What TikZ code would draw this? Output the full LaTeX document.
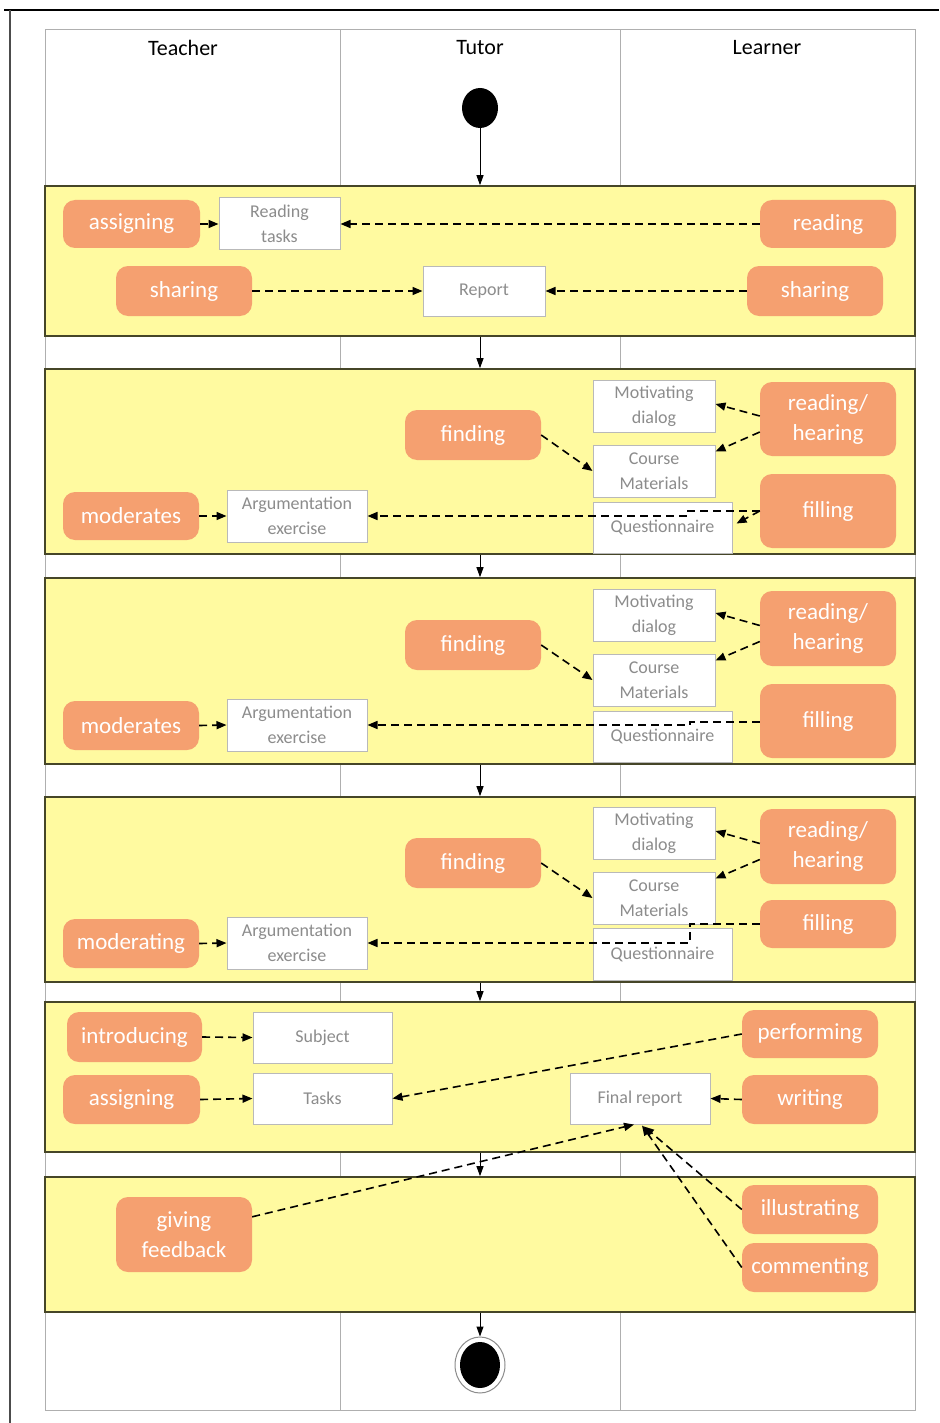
\documentclass[tikz,border=0pt]{standalone}
\usepackage{fontspec}
\setmainfont{Carlito}
\usetikzlibrary{arrows.meta,shapes.geometric}

\definecolor{actfill}{RGB}{245,160,112}
\definecolor{bandfill}{RGB}{255,250,160}
\definecolor{bandline}{RGB}{70,70,40}
\definecolor{boxline}{RGB}{185,185,185}
\definecolor{boxtext}{RGB}{140,140,140}
\definecolor{laneline}{RGB}{175,175,175}

\tikzset{
  act/.style={rounded corners=12pt, fill=actfill, draw=none, text=white, align=center,
    font=\fontsize{23}{30}\selectfont, inner sep=0pt},
  obj/.style={rectangle, fill=white, draw=boxline, line width=1pt, text=boxtext, align=center,
    font=\fontsize{18}{25}\selectfont, inner sep=0pt},
  band/.style={rectangle, fill=bandfill, draw=bandline, line width=1.6pt, inner sep=0pt},
  flow/.style={draw=black, line width=1.6pt, dash pattern=on 8pt off 5pt,
    -{Triangle[length=10pt,width=8pt]}},
  ctrl/.style={draw=black, line width=1pt, -{Triangle[length=10pt,width=7pt]}},
  lane/.style={draw=laneline, line width=1pt},
  head/.style={font=\fontsize{22}{26}\selectfont, text=black},
}

\begin{document}
\begin{tikzpicture}[x=1pt,y=-1pt]
\useasboundingbox (0,0) rectangle (939,1423);
\fill[white] (0,0) rectangle (939,1423);

% outer frame edges
\draw[black, line width=1.8pt] (4,10) -- (939,10);
\draw[black!70, line width=1.8pt] (10,10) -- (10,1423);

% swimlanes
\draw[lane] (45,30) rectangle (915,1410);
\draw[lane] (340,30) -- (340,1410);
\draw[lane] (620,30) -- (620,1410);
\node[head] (hT) at (183,48) {Teacher};
\node[head] (hU) at (480,48) {Tutor};
\node[head] (hL) at (767,48) {Learner};

% start and end
\node[ellipse, fill=black, minimum width=36pt, minimum height=40pt, inner sep=0pt] (start) at (480,108) {};
\node[ellipse, draw=black!45, line width=1pt, fill=white, minimum width=50pt, minimum height=56pt, inner sep=0pt] (endring) at (480,1365) {};
\node[ellipse, fill=black, minimum width=40pt, minimum height=46pt, inner sep=0pt] (end) at (480,1365) {};

% activity bands
\node[band, minimum width=870pt, minimum height=150pt] (b1) at (480,261) {};
\node[band, minimum width=870pt, minimum height=185pt] (b2) at (480,461.5) {};
\node[band, minimum width=870pt, minimum height=186pt] (b3) at (480,671) {};
\node[band, minimum width=870pt, minimum height=185pt] (b4) at (480,889.5) {};
\node[band, minimum width=870pt, minimum height=150pt] (b5) at (480,1077) {};
\node[band, minimum width=870pt, minimum height=135pt] (b6) at (480,1244.5) {};

% control flow
\draw[ctrl] (start) -- (b1.north);
\draw[ctrl] (b1.south) -- (b2.north);
\draw[ctrl] (b2.south) -- (b3.north);
\draw[ctrl] (b3.south) -- (b4.north);
\draw[ctrl] (b4.south) -- (b5.north);
\draw[ctrl] (b5.south) -- (b6.north);
\draw[ctrl] (b6.south) -- (endring.north);

% band 1
\node[act, minimum width=137pt, minimum height=48pt] (as1) at (131.5,224) {assigning};
\node[obj, minimum width=121pt, minimum height=52pt] (rt) at (279.5,224) {Reading\\tasks};
\node[act, minimum width=136pt, minimum height=48pt] (rd) at (828,224) {reading};
\node[act, minimum width=136pt, minimum height=50pt] (sh1) at (184,291) {sharing};
\node[obj, minimum width=122pt, minimum height=50pt] (rep) at (484,291) {Report};
\node[act, minimum width=136pt, minimum height=50pt] (sh2) at (815,291) {sharing};
\draw[flow] (as1.east) -- (rt.west);
\draw[flow] (rd.west) -- (rt.east);
\draw[flow] (sh1.east) -- (rep.west);
\draw[flow] (sh2.west) -- (rep.east);

% band 2
\node[obj, minimum width=122pt, minimum height=52pt] (md2) at (654,406) {Motivating\\dialog};
\node[obj, minimum width=122pt, minimum height=52pt] (cm2) at (654,471) {Course\\Materials};
\node[obj, minimum width=139pt, minimum height=51pt] (q2) at (662.5,527.5) {Questionnaire};
\node[act, minimum width=136pt, minimum height=74pt] (rh2) at (828,419) {reading/\\hearing};
\node[act, minimum width=136pt, minimum height=74pt] (fi2) at (828,511) {filling};
\node[act, minimum width=136pt, minimum height=50pt] (fd2) at (473,435) {finding};
\node[act, minimum width=136pt, minimum height=48pt] (mo2) at (131,516) {moderates};
\node[obj, minimum width=140pt, minimum height=52pt] (ae2) at (297,516) {Argumentation\\exercise};
\draw[flow] ([yshift=3pt]rh2.west) -- ([yshift=2pt]md2.east);
\draw[flow] ([yshift=-13pt]rh2.west) -- ([yshift=-7pt]cm2.north east);
\draw[flow] (fd2.east) -- (cm2.west);
\draw[flow] (fi2.west) -- ++(-72,0) |- (ae2.east);
\draw[flow] (fi2.west) -- ([xshift=4pt,yshift=4pt]q2.east);
\draw[flow] (mo2.east) -- (ae2.west);

% band 3
\node[obj, minimum width=122pt, minimum height=52pt] (md3) at (654,615) {Motivating\\dialog};
\node[obj, minimum width=122pt, minimum height=52pt] (cm3) at (654,680) {Course\\Materials};
\node[obj, minimum width=139pt, minimum height=51pt] (q3) at (662.5,736.5) {Questionnaire};
\node[act, minimum width=136pt, minimum height=75pt] (rh3) at (828,628.5) {reading/\\hearing};
\node[act, minimum width=136pt, minimum height=74pt] (fi3) at (828,721) {filling};
\node[act, minimum width=136pt, minimum height=50pt] (fd3) at (473,645) {finding};
\node[act, minimum width=136pt, minimum height=49pt] (mo3) at (131,725.5) {moderates};
\node[obj, minimum width=140pt, minimum height=52pt] (ae3) at (297,725) {Argumentation\\exercise};
\draw[flow] ([yshift=3pt]rh3.west) -- ([yshift=2pt]md3.east);
\draw[flow] ([yshift=-13pt]rh3.west) -- ([yshift=-7pt]cm3.north east);
\draw[flow] (fd3.east) -- (cm3.west);
\draw[flow] ([yshift=-1pt]fi3.west) -- ++(-70,0) |- (ae3.east);
\draw[flow] (mo3.east) -- (ae3.west);

% band 4
\node[obj, minimum width=122pt, minimum height=52pt] (md4) at (654,833) {Motivating\\dialog};
\node[obj, minimum width=122pt, minimum height=52pt] (cm4) at (654,898) {Course\\Materials};
\node[obj, minimum width=139pt, minimum height=52pt] (q4) at (662.5,954) {Questionnaire};
\node[act, minimum width=136pt, minimum height=75pt] (rh4) at (828,846.5) {reading/\\hearing};
\node[act, minimum width=136pt, minimum height=48pt] (fi4) at (828,924) {filling};
\node[act, minimum width=136pt, minimum height=50pt] (fd4) at (473,863) {finding};
\node[act, minimum width=136pt, minimum height=49pt] (mo4) at (131,943.5) {moderating};
\node[obj, minimum width=140pt, minimum height=52pt] (ae4) at (297,943) {Argumentation\\exercise};
\draw[flow] ([yshift=3pt]rh4.west) -- ([yshift=2pt]md4.east);
\draw[flow] ([yshift=-13pt]rh4.west) -- ([yshift=-7pt]cm4.north east);
\draw[flow] (fd4.east) -- (cm4.west);
\draw[flow] (fi4.west) -- ++(-70,0) |- (ae4.east);
\draw[flow] (mo4.east) -- (ae4.west);

% band 5
\node[act, minimum width=135pt, minimum height=50pt] (intro) at (134.5,1037) {introducing};
\node[obj, minimum width=139pt, minimum height=51pt] (subj) at (322.5,1037.5) {Subject};
\node[act, minimum width=137pt, minimum height=49pt] (as5) at (131.5,1099.5) {assigning};
\node[obj, minimum width=139pt, minimum height=51pt] (tasks) at (322.5,1098.5) {Tasks};
\node[act, minimum width=136pt, minimum height=48pt] (perf) at (810,1034) {performing};
\node[act, minimum width=136pt, minimum height=49pt] (wr) at (810,1099.5) {writing};
\node[obj, minimum width=140pt, minimum height=51pt] (fr) at (640,1098.5) {Final report};
\draw[flow] (intro.east) -- (subj.west);
\draw[flow] (as5.east) -- (tasks.west);
\draw[flow] (perf.west) -- (tasks.east);
\draw[flow] (wr.west) -- (fr.east);

% band 6
\node[act, minimum width=136pt, minimum height=75pt] (gf) at (184,1234.5) {giving\\feedback};
\node[act, minimum width=136pt, minimum height=49pt] (ill) at (810,1209.5) {illustrating};
\node[act, minimum width=136pt, minimum height=49pt] (com) at (810,1267.5) {commenting};
\draw[flow] ([yshift=-20pt]gf.north east) -- ([xshift=-6pt]fr.south);
\draw[flow] (ill.west) -- ([xshift=4pt,yshift=-2pt]fr.south);
\draw[flow] (com.west) -- ([xshift=2pt,yshift=-1pt]fr.south);
\end{tikzpicture}
\end{document}
